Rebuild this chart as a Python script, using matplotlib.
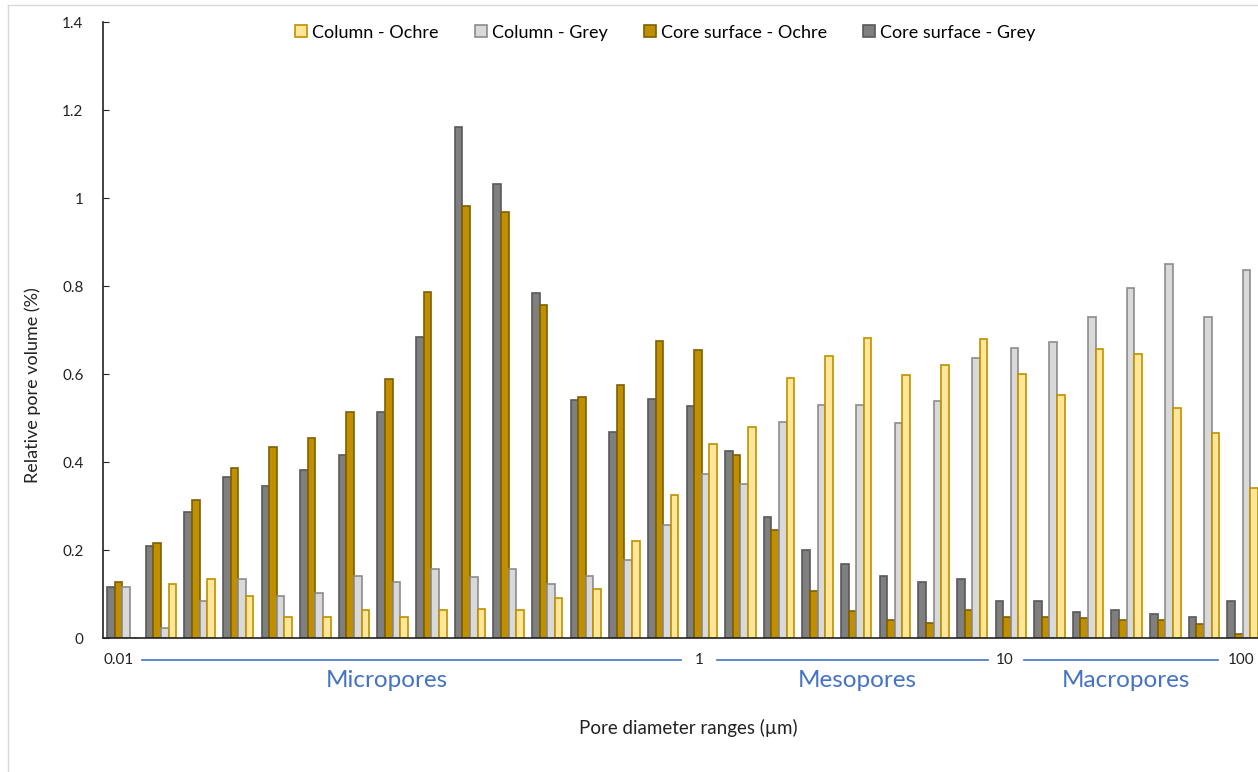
import matplotlib.pyplot as plt
import matplotlib.transforms as mtransforms
from matplotlib.lines import Line2D
import numpy as np

plt.rcParams['font.family'] = ['Lato', 'DejaVu Sans']

# values, one per pore diameter range (30 ranges)
core_grey = [0.116, 0.21, 0.287, 0.365, 0.346, 0.381, 0.417, 0.513, 0.683, 1.162,
             1.032, 0.785, 0.54, 0.468, 0.543, 0.527, 0.425, 0.276, 0.201, 0.168,
             0.142, 0.127, 0.133, 0.084, 0.084, 0.058, 0.064, 0.055, 0.048, 0.084]
core_ochre = [0.128, 0.215, 0.313, 0.387, 0.433, 0.455, 0.513, 0.589, 0.787, 0.981,
              0.968, 0.757, 0.547, 0.576, 0.675, 0.654, 0.417, 0.245, 0.107, 0.061,
              0.042, 0.034, 0.064, 0.048, 0.048, 0.045, 0.042, 0.042, 0.032, 0.009]
column_grey = [0.116, 0.022, 0.083, 0.135, 0.096, 0.103, 0.142, 0.128, 0.157, 0.138,
               0.157, 0.122, 0.142, 0.177, 0.257, 0.372, 0.351, 0.492, 0.529, 0.529,
               0.489, 0.538, 0.636, 0.659, 0.672, 0.73, 0.795, 0.85, 0.73, 0.837]
column_ochre = [0.0, 0.122, 0.135, 0.096, 0.048, 0.048, 0.063, 0.048, 0.063, 0.066,
                0.063, 0.09, 0.112, 0.221, 0.326, 0.44, 0.48, 0.591, 0.642, 0.682,
                0.597, 0.62, 0.679, 0.601, 0.552, 0.656, 0.646, 0.522, 0.467, 0.34]

series_names = ['Core surface - Grey', 'Core surface - Ochre', 'Column - Grey', 'Column - Ochre']
series_values = [core_grey, core_ochre, column_grey, column_ochre]
fill_colors = ['#7f7f7f', '#bf8f00', '#d9d9d9', '#ffe699']
edge_colors = ['#595959', '#7f6000', '#8c8c8c', '#bf9000']

# size-range annotation under the axis
bound_labels = ['0.01', '1', '10', '100']
bound_pos = [-0.1, 14.93, 22.85, 28.95]
class_labels = ['Micropores', 'Mesopores', 'Macropores']
class_pos = [6.85, 19.03, 25.97]
class_lines = [(0.5, 14.47), (15.4, 22.4), (23.35, 28.36)]

fig = plt.figure(figsize=(12.58, 7.72), dpi=100)
ax = fig.add_axes([103 / 1258, 134 / 772, 1 - 103 / 1258, 616 / 772])

x = np.arange(len(core_grey))
w = 0.197
handles = {}
for k in range(4):
    bars = ax.bar(x + (k - 1.5) * w, series_values[k], width=w, color=fill_colors[k],
                  edgecolor=edge_colors[k], linewidth=1.2, label=series_names[k])
    handles[series_names[k]] = bars

ax.set_xlim(-0.5, 29.4)
ax.set_ylim(0, 1.4)
ax.set_yticks(np.arange(0, 1.41, 0.2))
ax.set_yticklabels(['0', '0.2', '0.4', '0.6', '0.8', '1', '1.2', '1.4'])
ax.tick_params(axis='y', direction='in', length=4, labelsize=11, colors='#222222', pad=14)
ax.set_xticks([])
for s in ['top', 'right']:
    ax.spines[s].set_visible(False)
ax.spines['left'].set_color('#222222')
ax.spines['bottom'].set_color('#222222')
ax.spines['left'].set_linewidth(1.2)
ax.spines['bottom'].set_linewidth(1.2)

order = ['Column - Ochre', 'Column - Grey', 'Core surface - Ochre', 'Core surface - Grey']
ax.legend([handles[n] for n in order], order, loc='upper center', bbox_to_anchor=(0.487, 1.022),
          ncol=4, frameon=False, fontsize=13, handlelength=0.65, handleheight=0.65,
          handletextpad=0.3, columnspacing=2.0)

trans = mtransforms.blended_transform_factory(ax.transData, ax.transAxes)
for lab, p in zip(bound_labels, bound_pos):
    ax.text(p, -0.036, lab, transform=trans, ha='center', va='center', fontsize=11,
            color='#222222', clip_on=False)
for (a, b) in class_lines:
    ax.add_line(Line2D([a, b], [-0.036, -0.036], transform=trans, color='#4472c4',
                       linewidth=1.2, clip_on=False))
for lab, p in zip(class_labels, class_pos):
    ax.text(p, -0.069, lab, transform=trans, ha='center', va='center', fontsize=17.5,
            color='#4472c4', clip_on=False)

fig.text(688 / 1258, 1 - 728 / 772, 'Pore diameter ranges (µm)', ha='center', va='center',
         fontsize=13.5, color='#222222')
fig.text(33 / 1258, 1 - 385 / 772, 'Relative pore volume (%)', ha='center', va='center',
         rotation=90, fontsize=13, color='#222222')

# light chart frame
fig.add_artist(Line2D([8 / 1258, 8 / 1258], [0, 1 - 5 / 772], transform=fig.transFigure,
                      color='#d9d9d9', linewidth=1))
fig.add_artist(Line2D([8 / 1258, 1], [1 - 5 / 772, 1 - 5 / 772], transform=fig.transFigure,
                      color='#d9d9d9', linewidth=1))

fig.savefig('out.png', dpi=100)
